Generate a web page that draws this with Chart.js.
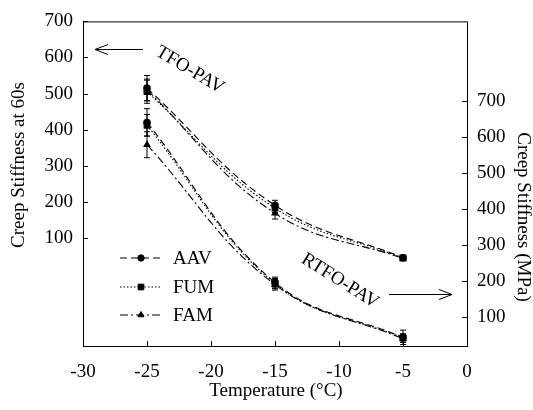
<!DOCTYPE html>
<html>
<head>
<meta charset="utf-8">
<script src="https://cdn.jsdelivr.net/npm/chart.js@4.4.1/dist/chart.umd.min.js"></script>
<style>
  html, body { margin: 0; padding: 0; background: #fff; }
  #wrap { width: 533px; height: 410px; position: relative; }
</style>
</head>
<body>
<div id="wrap"><canvas id="chart" width="533" height="410"></canvas></div>
<script>
// Test temperatures (°C)
const temps = [-25, -15, -5];

// TFO-PAV creep stiffness at 60s (left axis)
const tfoAAV = [515, 190, 45];
const tfoFUM = [505, 182, 44];
const tfoFAM = [510, 168, 43];
const tfoAAVErr = [35, 14, 4];
const tfoFUMErr = [32, 12, 4];
const tfoFAMErr = [30, 16, 4];

// RTFO-PAV creep stiffness in MPa (right axis)
const rtfoAAV = [640, 196, 44];
const rtfoFUM = [632, 193, 42];
const rtfoFAM = [578, 190, 40];
const rtfoAAVErr = [38, 15, 20];
const rtfoFUMErr = [30, 14, 12];
const rtfoFAMErr = [36, 15, 10];

const xTicks = [-30, -25, -20, -15, -10, -5, 0];
const leftTicks = [100, 200, 300, 400, 500, 600, 700];
const rightTicks = [100, 200, 300, 400, 500, 600, 700];

const SERIF = "'Liberation Serif', 'DejaVu Serif', serif";
const INK = '#000';

const styles = {
  AAV: { dash: [7, 4], point: 'circle', r: 3.2 },
  FUM: { dash: [1.5, 2], point: 'rect', r: 4 },
  FAM: { dash: [8, 3, 2, 3], point: 'triangle', r: 3.5 }
};

function series(label, name, values, err, axis) {
  return {
    label: label,
    data: temps.map((t, i) => ({ x: t, y: values[i] })),
    err: err,
    yAxisID: axis,
    borderColor: INK,
    backgroundColor: INK,
    borderWidth: 1.1,
    borderDash: styles[name].dash,
    pointStyle: styles[name].point,
    pointRadius: styles[name].r,
    tension: 0.4
  };
}

// vertical error bars with caps, positioned through the chart scales
const errorBars = {
  id: 'errorBars',
  afterDatasetsDraw(chart) {
    const ctx = chart.ctx;
    const xs = chart.scales.x;
    ctx.save();
    ctx.strokeStyle = INK;
    ctx.lineWidth = 1;
    chart.data.datasets.forEach(ds => {
      const ys = chart.scales[ds.yAxisID];
      ds.data.forEach((p, i) => {
        const px = xs.getPixelForValue(p.x);
        const top = ys.getPixelForValue(p.y + ds.err[i]);
        const bot = Math.min(ys.getPixelForValue(p.y - ds.err[i]), chart.chartArea.bottom);
        ctx.beginPath();
        ctx.moveTo(px, top); ctx.lineTo(px, bot);
        ctx.moveTo(px - 3, top); ctx.lineTo(px + 3, top);
        ctx.moveTo(px - 3, bot); ctx.lineTo(px + 3, bot);
        ctx.stroke();
      });
    });
    ctx.restore();
  }
};

function arrow(ctx, x1, x2, y) {
  const dir = Math.sign(x2 - x1);
  ctx.beginPath();
  ctx.moveTo(x1, y); ctx.lineTo(x2, y);
  ctx.moveTo(x2 - dir * 13, y - 5); ctx.lineTo(x2, y); ctx.lineTo(x2 - dir * 13, y + 5);
  ctx.stroke();
}

function rotatedText(ctx, text, x, y, angle) {
  ctx.save();
  ctx.translate(x, y);
  ctx.rotate(angle);
  ctx.textAlign = 'center';
  ctx.textBaseline = 'middle';
  ctx.fillText(text, 0, 0);
  ctx.restore();
}

// frame, inward ticks, axis titles, legend and curve labels
const decorations = {
  id: 'decorations',
  afterDraw(chart) {
    const ctx = chart.ctx;
    const a = chart.chartArea;
    const xs = chart.scales.x, yl = chart.scales.y, yr = chart.scales.y2;
    ctx.save();
    ctx.strokeStyle = INK;
    ctx.fillStyle = INK;
    ctx.lineWidth = 1;
    ctx.setLineDash([]);
    ctx.strokeRect(a.left + 0.5, a.top + 0.5, a.right - a.left, a.bottom - a.top);

    ctx.beginPath();
    xTicks.forEach(v => {
      const px = Math.round(xs.getPixelForValue(v)) + 0.5;
      ctx.moveTo(px, a.bottom); ctx.lineTo(px, a.bottom - 5);
    });
    leftTicks.forEach(v => {
      const py = Math.round(yl.getPixelForValue(v)) + 0.5;
      ctx.moveTo(a.left, py); ctx.lineTo(a.left + 5, py);
    });
    rightTicks.forEach(v => {
      const py = Math.round(yr.getPixelForValue(v)) + 0.5;
      ctx.moveTo(a.right, py); ctx.lineTo(a.right - 5, py);
    });
    ctx.stroke();

    ctx.font = '19px ' + SERIF;
    rotatedText(ctx, 'Creep Stiffness at 60s', 19, 165, -Math.PI / 2);
    rotatedText(ctx, 'Creep Stiffness (MPa)', 523, 217, Math.PI / 2);
    ctx.textAlign = 'center';
    ctx.textBaseline = 'middle';
    ctx.fillText('Temperature (°C)', 276, 391);

    // legend
    const rows = [['AAV', 258], ['FUM', 287], ['FAM', 315]];
    rows.forEach(([name, y]) => {
      ctx.save();
      ctx.setLineDash(styles[name].dash);
      ctx.beginPath();
      ctx.moveTo(120, y); ctx.lineTo(162, y);
      ctx.stroke();
      ctx.restore();
      Chart.helpers.drawPoint(ctx, { pointStyle: styles[name].point, radius: styles[name].r, borderWidth: 1 }, 141, y);
      ctx.textAlign = 'left';
      ctx.fillText(name, 173, y + 1);
    });

    // curve group labels with arrows to their axis
    rotatedText(ctx, 'TFO-PAV', 190, 70, 0.54);
    rotatedText(ctx, 'RTFO-PAV', 340, 281, 0.56);
    arrow(ctx, 143, 95, 49.5);
    arrow(ctx, 389, 452, 294.5);
    ctx.restore();
  }
};

const tickFont = { family: SERIF, size: 19 };

new Chart(document.getElementById('chart'), {
  type: 'line',
  data: {
    datasets: [
      series('AAV', 'AAV', tfoAAV, tfoAAVErr, 'y'),
      series('FUM', 'FUM', tfoFUM, tfoFUMErr, 'y'),
      series('FAM', 'FAM', tfoFAM, tfoFAMErr, 'y'),
      series('AAV', 'AAV', rtfoAAV, rtfoAAVErr, 'y2'),
      series('FUM', 'FUM', rtfoFUM, rtfoFUMErr, 'y2'),
      series('FAM', 'FAM', rtfoFAM, rtfoFAMErr, 'y2')
    ]
  },
  options: {
    responsive: false,
    animation: false,
    layout: { padding: { top: 18, left: 0, right: 0, bottom: 0 } },
    plugins: { legend: { display: false }, tooltip: { enabled: false } },
    scales: {
      x: {
        type: 'linear',
        min: -30, max: 0,
        afterBuildTicks: s => { s.ticks = xTicks.map(v => ({ value: v })); },
        afterFit: s => { s.height = 64; },
        grid: { display: false, drawTicks: false },
        border: { display: false },
        ticks: { color: INK, font: tickFont, padding: 15, maxRotation: 0 }
      },
      y: {
        position: 'left',
        min: -200, max: 700,
        afterBuildTicks: s => { s.ticks = leftTicks.map(v => ({ value: v })); },
        afterFit: s => { s.width = 83; },
        grid: { display: false, drawTicks: false },
        border: { display: false },
        ticks: { color: INK, font: tickFont, padding: 10 }
      },
      y2: {
        position: 'right',
        min: 20, max: 920,
        afterBuildTicks: s => { s.ticks = rightTicks.map(v => ({ value: v })); },
        afterFit: s => { s.width = 66; },
        grid: { display: false, drawTicks: false },
        border: { display: false },
        ticks: { color: INK, font: tickFont, padding: 10 }
      }
    }
  },
  plugins: [errorBars, decorations]
});
</script>
</body>
</html>
